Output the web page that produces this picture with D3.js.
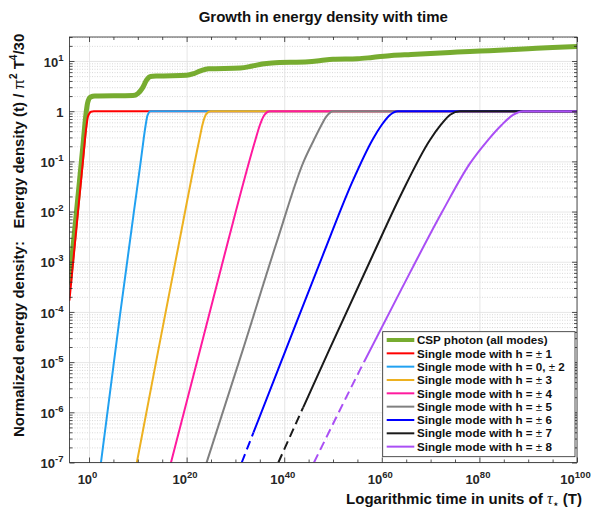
<!DOCTYPE html>
<html>
<head>
<meta charset="utf-8">
<script src="https://cdn.jsdelivr.net/npm/d3@7"></script>
<style>
body { margin: 0; background: #fff; }
text { font-family: "Liberation Sans", Arial, sans-serif; }
</style>
</head>
<body>
<svg id="chart" width="592" height="508"></svg>
<script>
// all points as [log10 t, log10 energy density]
var cspPhoton = [[-4,-3.41],[-2.5,-1.93],[-1.3,-0.74],[-0.7,-0.12],[-0.3,0.16],[0.3,0.28],[1.2,0.30],[9,0.31],[10,0.35],[11,0.47],[11.8,0.62],[12.6,0.69],[14,0.70],[20,0.715],[21.5,0.75],[23,0.81],[24.5,0.845],[31,0.86],[33.5,0.9],[35.5,0.94],[37.5,0.96],[45,0.985],[47.5,1.01],[50,1.035],[55,1.045],[58,1.07],[62,1.11],[66,1.13],[70,1.15],[74,1.17],[78,1.19],[82,1.205],[86,1.225],[90,1.245],[95,1.27],[100,1.29]];
var modeH1 = [[-4,-3.76],[-2.5,-2.25],[-1.3,-1.05],[-0.6,-0.36],[-0.2,-0.1],[0.4,-0.01],[1,0],[100,0]];
var modeH2 = [[2.45,-7],[6.3,-4.1],[9.2,-2.0],[10.6,-1.0],[11.2,-0.55],[11.6,-0.28],[12.0,-0.08],[12.6,0],[100,0]];
var modeH3 = [[9.8,-7],[14.2,-4.76],[18.2,-2.75],[22.6,-0.57],[23.3,-0.25],[24.0,-0.06],[24.9,0],[100,0]];
var modeH4 = [[16.8,-7],[22.75,-4.76],[28.2,-2.7],[34.1,-0.57],[35.0,-0.28],[35.9,-0.08],[37,0],[100,0]];
var modeH5 = [[24.1,-7],[31.5,-4.76],[38.5,-2.6],[44,-1.0],[46.1,-0.57],[47.5,-0.3],[48.7,-0.1],[50,0],[100,0]];
var modeH6 = [[31.3,-7],[40.3,-4.76],[48,-2.85],[54,-1.4],[58.1,-0.57],[60,-0.27],[61.6,-0.08],[63.3,0],[100,0]];
var modeH7 = [[38.8,-7],[49.2,-4.76],[58,-2.9],[64,-1.65],[69.9,-0.57],[72.2,-0.26],[74,-0.07],[76,0],[100,0]];
var modeH8 = [[46.1,-7],[55.5,-5.16],[64,-3.55],[72.4,-2.0],[78,-1.05],[81.8,-0.57],[84.5,-0.28],[86.8,-0.08],[89,0],[100,0]];

var seriesPoints = [cspPhoton, modeH1, modeH2, modeH3, modeH4, modeH5, modeH6, modeH7, modeH8];
var legendLabels = ["CSP photon (all modes)", "± 1", "0, ± 2", "± 3", "± 4", "± 5", "± 6", "± 7", "± 8"];
// below this log10 density the line is dashed
var dashedBelow = [null, null, null, null, null, null, -6.4, -5.9, -5.0];

var xTickExps = [0, 20, 40, 60, 80, 100];
var xMinorExps = [5, 10, 15, 25, 30, 35, 45, 50, 55, 65, 70, 75, 85, 90, 95];
var yTickExps = [-7, -6, -5, -4, -3, -2, -1, 0, 1];

var colors = ["#77AC30", "#FF0000", "#21A1F1", "#EDB120", "#FF1A9E", "#808080", "#0000FF", "#1A1A1A", "#AA4FF5"];
var widths = [5, 2, 2, 2, 2, 2, 2, 2, 2];

var L = 69.5, R = 577, T = 37, B = 462.5;
var svg = d3.select("#chart");

var x = d3.scaleLog().domain([1e-4, 1e100]).range([L, R]);
var y = d3.scaleLog().domain([1e-7, Math.pow(10, 1.478)]).range([B, T]);

var yMinor = [];
yTickExps.forEach(function(e) {
  for (var m = 2; m <= 9; m++) {
    var v = m * Math.pow(10, e);
    if (v < y.domain()[1]) yMinor.push(v);
  }
});
var pow = function(e) { return Math.pow(10, e); };

// grid
svg.append("g").attr("class", "grid")
  .attr("transform", "translate(" + L + ",0)")
  .call(d3.axisLeft(y).tickValues(yMinor).tickSize(-(R - L)).tickFormat(""))
  .call(function(g) { g.select(".domain").remove(); })
  .selectAll("line").attr("stroke", "#c8c8c8").attr("stroke-width", 0.7).attr("stroke-dasharray", "1,1.5");
svg.append("g").attr("class", "grid")
  .attr("transform", "translate(" + L + ",0)")
  .call(d3.axisLeft(y).tickValues(yTickExps.map(pow)).tickSize(-(R - L)).tickFormat(""))
  .call(function(g) { g.select(".domain").remove(); })
  .selectAll("line").attr("stroke", "#e0e0e0").attr("stroke-width", 0.8);
svg.append("g").attr("class", "grid")
  .attr("transform", "translate(0," + B + ")")
  .call(d3.axisBottom(x).tickValues(xTickExps.map(pow)).tickSize(-(B - T)).tickFormat(""))
  .call(function(g) { g.select(".domain").remove(); })
  .selectAll("line").attr("stroke", "#e0e0e0").attr("stroke-width", 0.8);

// clip regions
var defs = svg.append("defs");
defs.append("clipPath").attr("id", "plot").append("rect")
  .attr("x", L).attr("y", T).attr("width", R - L).attr("height", B - T);

var line = d3.line()
  .x(function(d) { return x(pow(d[0])); })
  .y(function(d) { return y(pow(d[1])); })
  .curve(d3.curveMonotoneX);

var plot = svg.append("g").attr("clip-path", "url(#plot)");
seriesPoints.forEach(function(pts, i) {
  var cut = dashedBelow[i];
  if (cut === null) {
    plot.append("path").attr("d", line(pts)).attr("fill", "none")
      .attr("stroke", colors[i]).attr("stroke-width", widths[i])
      .attr("stroke-linejoin", "round").attr("stroke-linecap", "round");
    return;
  }
  var yc = y(pow(cut));
  defs.append("clipPath").attr("id", "solid" + i).append("rect")
    .attr("x", L).attr("y", T).attr("width", R - L).attr("height", yc - T);
  defs.append("clipPath").attr("id", "dash" + i).append("rect")
    .attr("x", L).attr("y", yc).attr("width", R - L).attr("height", B - yc);
  plot.append("path").attr("d", line(pts)).attr("fill", "none")
    .attr("clip-path", "url(#solid" + i + ")")
    .attr("stroke", colors[i]).attr("stroke-width", widths[i]);
  plot.append("path").attr("d", line(pts)).attr("fill", "none")
    .attr("clip-path", "url(#dash" + i + ")")
    .attr("stroke", colors[i]).attr("stroke-width", widths[i])
    .attr("stroke-dasharray", "9,5");
});

// axes, ticks pointing inwards
var axisColor = "#262626";
function styleAxis(g) {
  g.select(".domain").remove();
  g.selectAll("line").attr("stroke", axisColor).attr("stroke-width", 0.8);
  g.selectAll("text").attr("fill", axisColor).attr("font-size", "13px").attr("font-weight", "bold");
}
svg.append("g").attr("transform", "translate(0," + B + ")")
  .call(d3.axisBottom(x).tickValues(xTickExps.map(pow)).tickSizeInner(-5).tickSizeOuter(0).tickPadding(0).tickFormat(""))
  .call(styleAxis)
  .selectAll(".tick text")
  .attr("y", 21.5).attr("dy", 0).attr("dx", -2)
  .each(function(d, i) {
    var t = d3.select(this);
    t.append("tspan").text("10");
    t.append("tspan").attr("font-size", "9.5px").attr("dy", -6).text(xTickExps[i]);
  });
svg.append("g").attr("transform", "translate(0," + B + ")")
  .call(d3.axisBottom(x).tickValues(xMinorExps.map(pow)).tickSizeInner(-3).tickSizeOuter(0).tickFormat(""))
  .call(styleAxis);
svg.append("g").attr("transform", "translate(0," + T + ")")
  .call(d3.axisTop(x).tickValues(xTickExps.map(pow)).tickSizeInner(-5).tickSizeOuter(0).tickFormat(""))
  .call(styleAxis);
svg.append("g").attr("transform", "translate(0," + T + ")")
  .call(d3.axisTop(x).tickValues(xMinorExps.map(pow)).tickSizeInner(-3).tickSizeOuter(0).tickFormat(""))
  .call(styleAxis);

svg.append("g").attr("transform", "translate(" + L + ",0)")
  .call(d3.axisLeft(y).tickValues(yTickExps.map(pow)).tickSizeInner(-5).tickSizeOuter(0).tickPadding(6).tickFormat(""))
  .call(styleAxis)
  .selectAll(".tick text")
  .attr("dy", "0.4em")
  .each(function(d, i) {
    var t = d3.select(this), e = yTickExps[i];
    if (e === 0) { t.text("1"); return; }
    t.append("tspan").text("10");
    t.append("tspan").attr("font-size", "9.5px").attr("dy", -6).text(e < 0 ? "-" + (-e) : e);
  });
svg.append("g").attr("transform", "translate(" + L + ",0)")
  .call(d3.axisLeft(y).tickValues(yMinor).tickSizeInner(-3).tickSizeOuter(0).tickFormat(""))
  .call(styleAxis);
svg.append("g").attr("transform", "translate(" + R + ",0)")
  .call(d3.axisRight(y).tickValues(yTickExps.map(pow)).tickSizeInner(-5).tickSizeOuter(0).tickFormat(""))
  .call(styleAxis);
svg.append("g").attr("transform", "translate(" + R + ",0)")
  .call(d3.axisRight(y).tickValues(yMinor).tickSizeInner(-3).tickSizeOuter(0).tickFormat(""))
  .call(styleAxis);

svg.append("rect").attr("x", L).attr("y", T).attr("width", R - L).attr("height", B - T)
  .attr("fill", "none").attr("stroke", axisColor).attr("stroke-width", 0.8);

// title
svg.append("text").attr("x", (L + R) / 2).attr("y", 21.5).attr("text-anchor", "middle")
  .attr("font-size", "15px").attr("font-weight", "bold").attr("fill", "#111")
  .text("Growth in energy density with time");

// x label
var xl = svg.append("text").attr("x", 582).attr("y", 503.5).attr("text-anchor", "end")
  .attr("font-size", "15px").attr("font-weight", "bold").attr("fill", "#111");
xl.append("tspan").text("Logarithmic time in units of ");
xl.append("tspan").attr("font-family", "'Liberation Serif', serif").attr("font-style", "italic").attr("font-weight", "normal").attr("font-size", "16px").text("τ");
xl.append("tspan").attr("font-size", "9px").attr("dy", 3).text("⋆");
xl.append("tspan").attr("dy", -3).text(" (T)");

// y label
var yl = svg.append("text").attr("transform", "translate(23.5,437) rotate(-90)")
  .attr("text-anchor", "start").attr("font-size", "15px").attr("font-weight", "bold")
  .attr("fill", "#111").style("white-space", "pre");
yl.append("tspan").text("Normalized energy density:   Energy density (t) / ");
yl.append("tspan").attr("font-weight", "normal").text("π");
yl.append("tspan").attr("font-size", "10px").attr("dy", -7).text("2");
yl.append("tspan").attr("dy", 7).text(" T");
yl.append("tspan").attr("font-size", "10px").attr("dy", -7).text("4");
yl.append("tspan").attr("dy", 7).text("/30");

// legend
var lg = svg.append("g");
lg.append("rect").attr("x", 382.7).attr("y", 331.7).attr("width", 192.3).attr("height", 125)
  .attr("fill", "#fff").attr("stroke", axisColor).attr("stroke-width", 0.8);
var rows = lg.selectAll("g.row").data(legendLabels).join("g")
  .attr("transform", function(d, i) { return "translate(0," + (340 + i * 13.33) + ")"; });
rows.append("line").attr("x1", 386.7).attr("x2", 414.3)
  .attr("stroke", function(d, i) { return colors[i]; })
  .attr("stroke-width", function(d, i) { return i === 0 ? 4 : 2; });
rows.append("text").attr("x", 417).attr("dy", "0.36em")
  .attr("font-size", "11.6px").attr("font-weight", "bold").attr("fill", "#111")
  .each(function(d, i) {
    var t = d3.select(this);
    if (i === 0) { t.text(d); return; }
    var parts = d.split("±");
    t.append("tspan").text("Single mode with h = " + parts[0]);
    t.append("tspan").attr("font-weight", "normal").text("±");
    t.append("tspan").text(parts[1]);
  });
</script>
</body>
</html>
